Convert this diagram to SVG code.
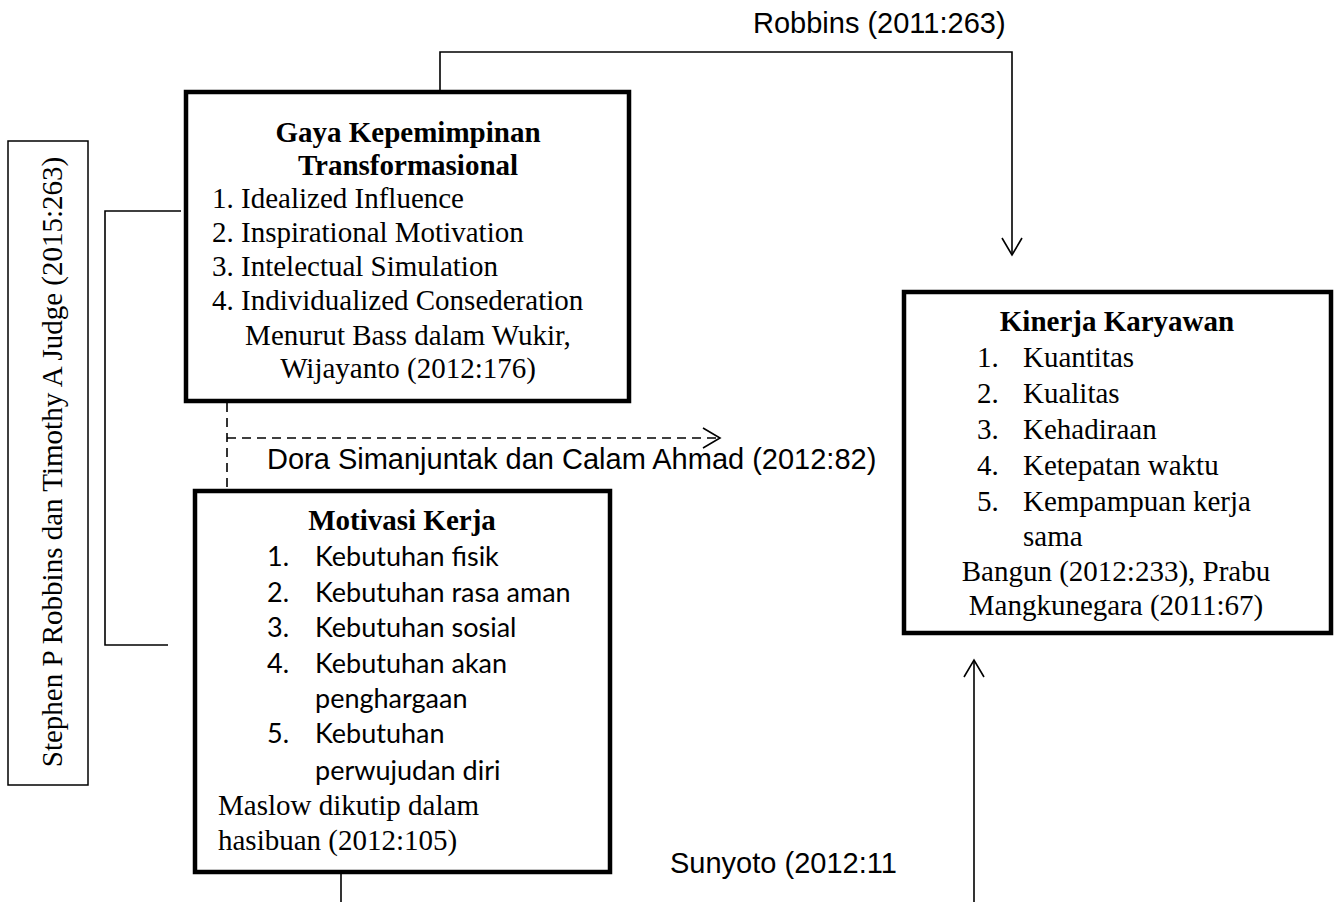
<svg xmlns="http://www.w3.org/2000/svg" width="1335" height="902" viewBox="0 0 1335 902">
<style>
.box{fill:#fff;stroke:#000;stroke-width:4.5}
.thin{fill:#fff;stroke:#000;stroke-width:1.5}
.ln{fill:none;stroke:#000;stroke-width:1.6}
.dash{fill:none;stroke:#000;stroke-width:1.6;stroke-dasharray:9 6}
.t{font-family:"Liberation Serif","Times New Roman",serif;font-size:29px;fill:#000}
.b{font-weight:bold}
.a{font-family:"Liberation Sans",Arial,sans-serif;font-size:29px;fill:#000}
.c{font-family:Lato,"Open Sans",sans-serif;font-size:27px;fill:#000}
.m{text-anchor:middle}
</style>
<defs>
<marker id="arr" markerUnits="userSpaceOnUse" viewBox="0 0 20 22" markerWidth="20" markerHeight="22" refX="18" refY="11" orient="auto">
<path d="M1,1 L18,11 L1,21" fill="none" stroke="#000" stroke-width="1.6"/>
</marker>
</defs>
<g id="connectors">
<path class="ln" d="M440,92 V52 H1012 V255" marker-end="url(#arr)"/>
<path class="ln" d="M181,211 H105 V645 H168"/>
<path class="dash" d="M227,403 V491"/>
<path class="dash" d="M227,438 H720" marker-end="url(#arr)"/>
<path class="ln" d="M341,872 V902"/>
<path class="ln" d="M974,902 V660" marker-end="url(#arr)"/>
<text class="a" x="753" y="33">Robbins (2011:263)</text>
<text class="a" x="267" y="469">Dora Simanjuntak dan Calam Ahmad (2012:82)</text>
<text class="a" x="670" y="873">Sunyoto (2012:11</text>
</g>
<g id="ref-left">
<rect class="thin" x="8" y="141" width="80" height="644"/>
<text class="t m" transform="translate(62,462) rotate(-90)">Stephen P Robbins dan Timothy A Judge (2015:263)</text>
</g>
<g id="gaya">
<rect class="box" x="186" y="92" width="443" height="309"/>
<text class="t b m" x="408" y="142">Gaya Kepemimpinan</text>
<text class="t b m" x="408" y="175">Transformasional</text>
<text class="t" x="212" y="208">1. Idealized Influence</text>
<text class="t" x="212" y="242">2. Inspirational Motivation</text>
<text class="t" x="212" y="276">3. Intelectual Simulation</text>
<text class="t" x="212" y="310">4. Individualized Consederation</text>
<text class="t m" x="408" y="345">Menurut Bass dalam Wukir,</text>
<text class="t m" x="408" y="378">Wijayanto (2012:176)</text>
</g>
<g id="motivasi">
<rect class="box" x="195" y="491" width="415" height="381"/>
<text class="t b m" x="402" y="530">Motivasi Kerja</text>
<text class="c" x="267" y="566">1.</text><text class="c" x="315" y="566">Kebutuhan fisik</text>
<text class="c" x="267" y="602">2.</text><text class="c" x="315" y="602">Kebutuhan rasa aman</text>
<text class="c" x="267" y="637">3.</text><text class="c" x="315" y="637">Kebutuhan sosial</text>
<text class="c" x="267" y="673">4.</text><text class="c" x="315" y="673">Kebutuhan akan</text>
<text class="c" x="315" y="708">penghargaan</text>
<text class="c" x="267" y="743">5.</text><text class="c" x="315" y="743">Kebutuhan</text>
<text class="c" x="315" y="780">perwujudan diri</text>
<text class="t" x="218" y="815">Maslow dikutip dalam</text>
<text class="t" x="218" y="850">hasibuan (2012:105)</text>
</g>
<g id="kinerja">
<rect class="box" x="904" y="292" width="427" height="341"/>
<text class="t b m" x="1117" y="331">Kinerja Karyawan</text>
<text class="t" x="977" y="367">1.</text><text class="t" x="1023" y="367">Kuantitas</text>
<text class="t" x="977" y="403">2.</text><text class="t" x="1023" y="403">Kualitas</text>
<text class="t" x="977" y="439">3.</text><text class="t" x="1023" y="439">Kehadiraan</text>
<text class="t" x="977" y="475">4.</text><text class="t" x="1023" y="475">Ketepatan waktu</text>
<text class="t" x="977" y="511">5.</text><text class="t" x="1023" y="511">Kempampuan kerja</text>
<text class="t" x="1023" y="546">sama</text>
<text class="t m" x="1116" y="581">Bangun (2012:233), Prabu</text>
<text class="t m" x="1116" y="615">Mangkunegara (2011:67)</text>
</g>
</svg>
